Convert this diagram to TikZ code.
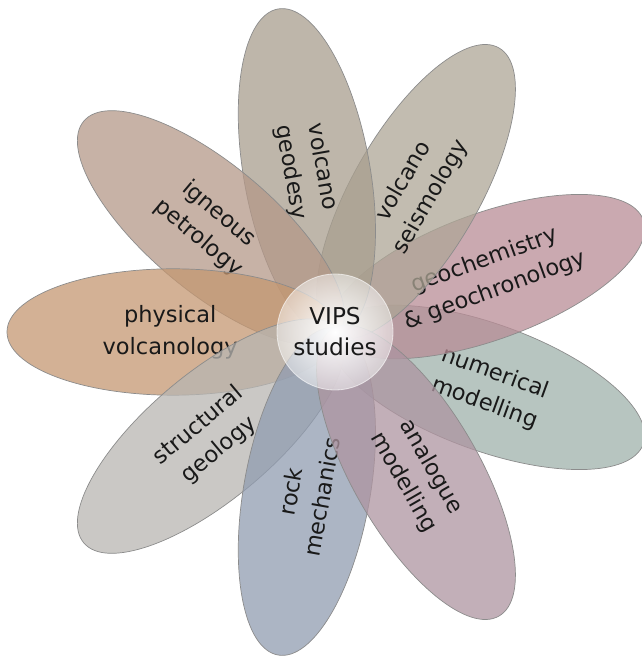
\documentclass[tikz,border=0pt]{standalone}
\usepackage{fontspec}
\setmainfont{DejaVu Sans}
\usetikzlibrary{fadings}

\definecolor{numcol}{RGB}{159,178,171}
\definecolor{chemcol}{RGB}{184,140,150}
\definecolor{seiscol}{RGB}{174,166,150}
\definecolor{geodcol}{RGB}{168,158,142}
\definecolor{igncol}{RGB}{180,152,136}
\definecolor{physcol}{RGB}{196,151,113}
\definecolor{structcol}{RGB}{184,182,178}
\definecolor{rockcol}{RGB}{144,156,176}
\definecolor{anacol}{RGB}{174,148,160}

\tikzfading[name=hubglow, inner color=transparent!0, outer color=transparent!75]

\begin{document}
\begin{tikzpicture}[
  petal/.style={draw=black!45, line width=0.5pt, fill opacity=0.75},
  petallabel/.style={align=center, text=black!90, font=\fontsize{16}{22.5}\selectfont},
  hublabel/.style={align=center, text=black!90, font=\fontsize{16.5}{22}\selectfont}
]
  \useasboundingbox (0,0) rectangle (16.05,16.425);
  \coordinate (hub) at (8.375,8.125);

  % petals, drawn one after the other with their labels
  \foreach \ang/\rot/\col/\nm/\txt in {
      -20/-20/numcol/numerical/{numerical\\modelling},
      20/20/chemcol/geochem/{geochemistry\\\& geochronology},
      60/60/seiscol/seismology/{volcano\\seismology},
      100/-80/geodcol/geodesy/{volcano\\geodesy},
      140/-40/igncol/petrology/{igneous\\petrology},
      180/0/physcol/physvolc/{physical\\volcanology},
      220/40/structcol/structural/{structural\\geology},
      260/80/rockcol/rockmech/{rock\\mechanics},
      300/-60/anacol/analogue/{analogue\\modelling}}
  {
    \begin{scope}[shift={(hub)}, rotate=\ang]
      \path[petal, fill=\col] (4.05,0) ellipse (4.15cm and 1.58cm);
      \node[petallabel, rotate=\rot] (\nm) at (4.12,0) {\txt};
    \end{scope}
  }

  % centre disc
  \fill[white, opacity=0.3] (hub) circle (1.45cm);
  \fill[white, path fading=hubglow] (hub) circle (1.45cm);
  \draw[white, opacity=0.6, line width=0.6pt] (hub) circle (1.45cm);
  \node[hublabel] (vips) at (hub) {VIPS\\studies};
\end{tikzpicture}
\end{document}
